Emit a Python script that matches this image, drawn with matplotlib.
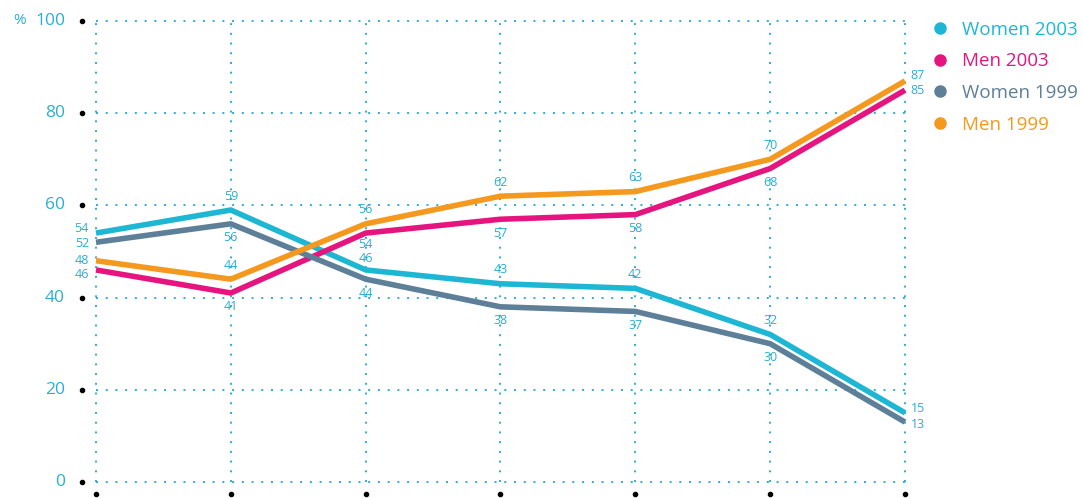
import matplotlib
matplotlib.use('Agg')
import matplotlib.pyplot as plt
import matplotlib.transforms as mtransforms
from matplotlib.lines import Line2D

# values (7 age groups, no x labels shown)
x = [0, 1, 2, 3, 4, 5, 6]
women_2003 = [54, 59, 46, 43, 42, 32, 15]
men_2003 = [46, 41, 54, 57, 58, 68, 85]
women_1999 = [52, 56, 44, 38, 37, 30, 13]
men_1999 = [48, 44, 56, 62, 63, 70, 87]

names = ['Women 2003', 'Men 2003', 'Women 1999', 'Men 1999']
yticks = [0, 20, 40, 60, 80, 100]
ytick_labels = ['0', '20', '40', '60', '80', '100']

cyan = '#1db7d4'
magenta = '#e5147f'
slate = '#5d7f98'
orange = '#f5981e'
text_blue = '#2aaed3'

series = [women_2003, men_2003, women_1999, men_1999]
colors = [cyan, magenta, slate, orange]
# label above (+1) or below (-1) the line for middle points
side = [1, -1, -1, 1]
# small vertical nudge for the end labels (points)
left_nudge = [3, -3, -1, 0]
right_nudge = [3, 0, -2, 4]
# tighter offsets where two labels meet (series, point)
tight = {(0, 2): 8, (1, 2): 8}

plt.rcParams['font.family'] = ['Open Sans', 'DejaVu Sans']

fig = plt.figure(figsize=(10.83, 4.98), dpi=100)
ax = fig.add_axes([96 / 1083, 16 / 498, 809 / 1083, 461 / 498])
ax.set_xlim(0, 6)
ax.set_ylim(0, 100)

# dotted grid
for yv in yticks:
    ax.plot([0, 6], [yv, yv], color=text_blue, lw=1.4, ls=(0, (1, 4)), clip_on=False, zorder=1)
for xv in x:
    ax.plot([xv, xv], [0, 100], color=text_blue, lw=1.4, ls=(0, (1, 4)), clip_on=False, zorder=1)

# draw lines back to front
order = [2, 3, 1, 0]
for i in order:
    ax.plot(x, series[i], color=colors[i], lw=4.0, solid_capstyle='butt',
            solid_joinstyle='round', clip_on=False, zorder=3 + i)

for i, vals in enumerate(series):
    for j, v in enumerate(vals):
        if j == 0:
            ax.annotate(str(v), (x[j], v), xytext=(-5, left_nudge[i]), textcoords='offset points',
                        ha='right', va='center', fontsize=9, color=text_blue)
        elif j == len(vals) - 1:
            ax.annotate(str(v), (x[j], v), xytext=(4, right_nudge[i]), textcoords='offset points',
                        ha='left', va='center', fontsize=9, color=text_blue)
        else:
            off = tight.get((i, j), 10)
            ax.annotate(str(v), (x[j], v), xytext=(0, off * side[i]), textcoords='offset points',
                        ha='center', va='center', fontsize=9, color=text_blue)

# y tick labels and black dots
trans_y = mtransforms.blended_transform_factory(ax.transAxes, ax.transData)
ax.scatter([-14 / 809] * len(yticks), yticks, s=9, color='black', transform=trans_y, clip_on=False)
for yv, lab in zip(yticks, ytick_labels):
    ax.text(-31 / 809, yv, lab, transform=trans_y, ha='right', va='center',
            fontsize=12.5, color=text_blue)
ax.text(-70 / 809, 100, '%', transform=trans_y, ha='right', va='center',
        fontsize=11, color=text_blue)

trans_x = mtransforms.blended_transform_factory(ax.transData, ax.transAxes)
ax.scatter(x, [-12 / 461] * len(x), s=9, color='black', transform=trans_x, clip_on=False)

ax.set_axis_off()

handles = [Line2D([], [], ls='none', marker='o', markersize=8, color=c) for c in colors]
fig.legend(handles, names, loc='upper left', bbox_to_anchor=(934 / 1083, 1 - 21 / 498),
           frameon=False, labelcolor=colors, fontsize=13.5, handlelength=0.6,
           handletextpad=0.9, labelspacing=0.72, borderaxespad=0, borderpad=0)

fig.savefig('out.png', dpi=100)
